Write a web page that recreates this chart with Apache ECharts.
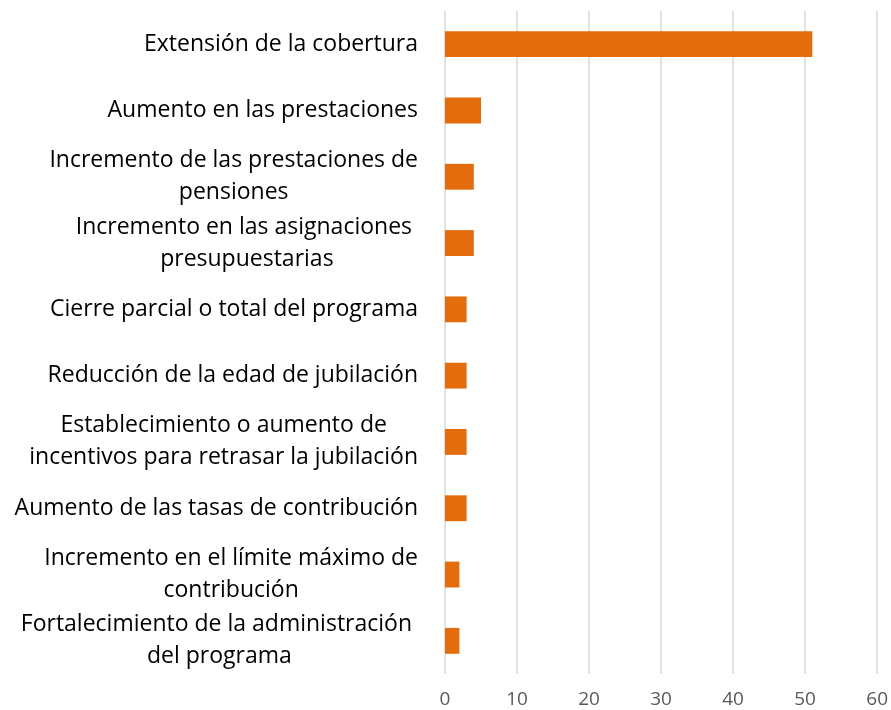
<!DOCTYPE html>
<html>
<head>
<meta charset="utf-8">
<script src="https://cdn.jsdelivr.net/npm/echarts@6/dist/echarts.min.js"></script>
<style>html,body{margin:0;padding:0;background:#fff}#c{width:891px;height:710px}</style>
</head>
<body>
<div id="c"></div>
<script>
const categories = [
  "Extensión de la cobertura",
  "Aumento en las prestaciones",
  "Incremento de las prestaciones de\npensiones",
  "Incremento en las asignaciones \npresupuestarias",
  "Cierre parcial o total del programa",
  "Reducción de la edad de jubilación",
  "Establecimiento o aumento de\nincentivos para retrasar la jubilación",
  "Aumento de las tasas de contribución",
  "Incremento en el límite máximo de\ncontribución",
  "Fortalecimiento de la administración \ndel programa"
];
const values = [51, 5, 4, 4, 3, 3, 3, 3, 2, 2];
const xTicks = [0, 10, 20, 30, 40, 50, 60];

const chart = echarts.init(document.getElementById('c'), null, {renderer: 'canvas'});
chart.setOption({
  animation: false,
  grid: {left: 445, right: 11, top: 11, bottom: 36, containLabel: false},
  xAxis: {
    type: 'value',
    min: xTicks[0],
    max: xTicks[xTicks.length - 1],
    interval: 10,
    axisLine: {show: false},
    axisTick: {show: false},
    splitLine: {show: true, lineStyle: {color: '#d9d9d9', width: 1.5}},
    axisLabel: {color: '#595959', fontSize: 19, fontFamily: 'Open Sans', margin: 16}
  },
  yAxis: {
    type: 'category',
    data: categories,
    inverse: true,
    axisLine: {show: false},
    axisTick: {show: false},
    axisLabel: {
      margin: 27,
      color: '#000',
      fontSize: 23,
      fontFamily: 'Open Sans',
      lineHeight: 32,
      formatter: function (v) {
        return v.split('\n').map(l => '{c|' + l + '}').join('\n');
      },
      rich: {c: {align: 'center', color: '#000', fontSize: 23, fontFamily: 'Open Sans', lineHeight: 32}}
    }
  },
  series: [{
    type: 'bar',
    data: values,
    barWidth: '39%',
    itemStyle: {color: '#E46C0A'}
  }]
});
</script>
</body>
</html>
